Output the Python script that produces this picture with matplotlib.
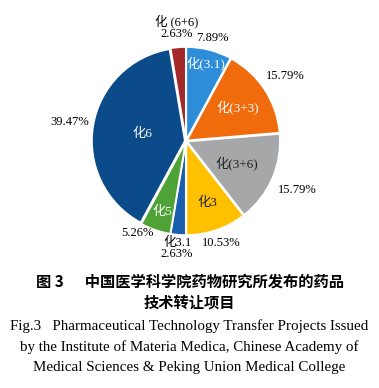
import numpy as np
import matplotlib
matplotlib.use("Agg")
import matplotlib.pyplot as plt

# slices clockwise from 12 o'clock
names = ["化(3.1)", "化(3+3)", "化(3+6)", "化3", "化3.1", "化5", "化6", "化 (6+6)"]
counts = [3, 6, 6, 4, 1, 2, 15, 1]
pct_labels = ["7.89%", "15.79%", "15.79%", "10.53%", "2.63%", "5.26%", "39.47%", "2.63%"]
colors = ["#2E8DD8", "#EF6B0C", "#A5A7A9", "#FFC000", "#1A5FAE", "#4EA236", "#0B4B8A", "#A3282A"]
name_colors = ["white", "white", "#222222", "#222222", "black", "white", "white", "black"]
# radius of each text relative to pie radius, plus a small angle nudge (deg)
name_r = [0.86, 0.66, 0.60, 0.70, 1.16, 0.80, 0.47, 1.23]
pct_r = [1.14, 1.27, 1.31, 1.16, 1.26, 1.12, 1.27, 1.10]
pct_nudge = [0, 0, 0, 0, 0, -9, 0, 0]
outside = [False, False, False, False, True, False, False, True]

serif = ["Liberation Serif", "Noto Sans CJK SC"]

fig = plt.figure(figsize=(3.79, 3.88), dpi=100)
ax = fig.add_axes([0.1227, 0.277, 0.736, 0.719])
wedges, _ = ax.pie(counts, colors=colors, startangle=90, counterclock=False,
                   radius=1.0, explode=[0.012] * len(counts),
                   wedgeprops=dict(edgecolor="white", linewidth=1.3))
ax.set_xlim(-1.5, 1.5)
ax.set_ylim(-1.5, 1.5)
ax.set_aspect("equal")
ax.axis("off")

for i, w in enumerate(wedges):
    mid = np.deg2rad((w.theta1 + w.theta2) / 2)
    c, s = np.cos(mid), np.sin(mid)
    if outside[i]:
        ax.text(name_r[i] * c, name_r[i] * s, names[i] + "\n" + pct_labels[i],
                ha="center", va="center", fontsize=9, family=serif,
                linespacing=0.95, color="black")
    else:
        ax.text(name_r[i] * c, name_r[i] * s, names[i], ha="center", va="center",
                fontsize=9.5, family=serif, color=name_colors[i])
        pm = mid + np.deg2rad(pct_nudge[i])
        ax.text(pct_r[i] * np.cos(pm), pct_r[i] * np.sin(pm), pct_labels[i],
                ha="center", va="center", fontsize=9, family=serif, color="black")

cjk = ["Noto Sans CJK SC", "DejaVu Sans"]
fig.text(0.5, 1 - 282 / 388, "图 3      中国医学科学院药物研究所发布的药品",
         ha="center", va="center", fontsize=11, family=cjk, weight="bold")
fig.text(0.5, 1 - 303 / 388, "技术转让项目", ha="center", va="center",
         fontsize=11, family=cjk, weight="bold")
eng = ["Fig.3   Pharmaceutical Technology Transfer Projects Issued",
       "by the Institute of Materia Medica, Chinese Academy of",
       "Medical Sciences & Peking Union Medical College"]
for k, line in enumerate(eng):
    fig.text(0.5, 1 - (326 + 21 * k) / 388, line, ha="center", va="center",
             fontsize=10.8, family="Liberation Serif")

fig.savefig("out.png", dpi=100)
